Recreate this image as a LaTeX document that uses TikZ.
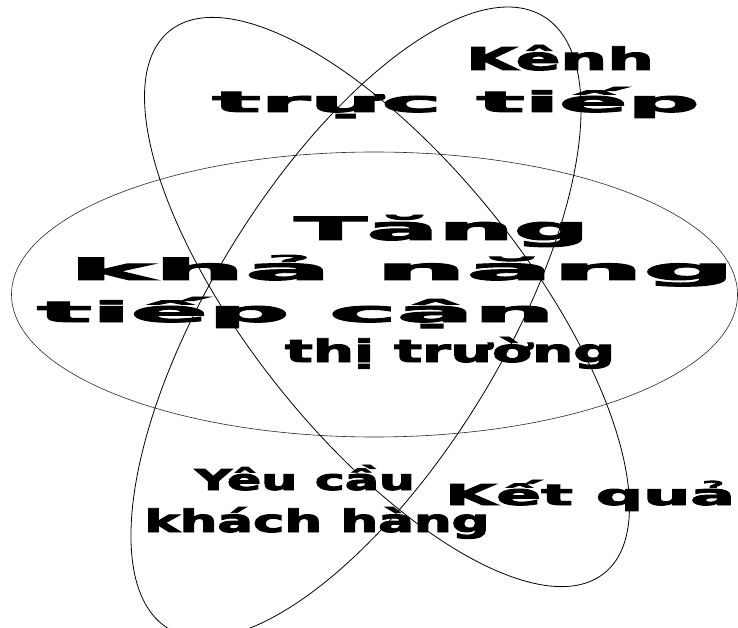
\documentclass[tikz,border=0pt]{standalone}
\usepackage{fontspec}
\setmainfont{DejaVu Sans}[BoldFeatures={FakeBold=3}]
\usepackage{graphicx}
\tikzset{
  orbit/.style={draw=black, line width=0.8pt},
  flatorbit/.style={draw=black!85, line width=0.6pt},
  word/.style={anchor=base, inner sep=0pt, outer sep=0pt, text=black}
}
\newcommand{\blobtext}[2]{\resizebox{#1}{25pt}{\bfseries #2}}
\begin{document}
\begin{tikzpicture}[x=1pt,y=1pt]
\useasboundingbox (0,0) rectangle (738,627);
% three orbits
\coordinate (ch) at (374.5,332.5);
\coordinate (ca) at (387,325);
\coordinate (cb) at (356,304.5);
\draw[flatorbit] (ch) ellipse [x radius=363, y radius=142.5];
\draw[orbit, rotate around={-51.3:(ca)}] (ca) ellipse [x radius=347.5, y radius=137.8];
\draw[orbit, rotate around={58.5:(cb)}] (cb) ellipse [x radius=359, y radius=145.8];
% top block
\node[word] (t1) at (560,557) {\blobtext{188pt}{Kênh}};
\node[word] (t2) at (456,515) {\blobtext{487pt}{trực tiếp}};
% centre block
\node[word] (c1) at (442,387) {\blobtext{295pt}{Tăng}};
\node[word] (c2) at (402,347) {\blobtext{665pt}{khả năng}};
\node[word] (c3) at (296,305) {\blobtext{517pt}{tiếp cận}};
\node[word] (c4) at (450,265) {\blobtext{330pt}{thị trường}};
% bottom left block
\node[word] (b1) at (305,137) {\blobtext{220pt}{Yêu cầu}};
\node[word] (b2) at (317,95) {\blobtext{345pt}{khách hàng}};
% bottom right
\node[word] (r1) at (590,122) {\blobtext{290pt}{Kết quả}};
\end{tikzpicture}
\end{document}
